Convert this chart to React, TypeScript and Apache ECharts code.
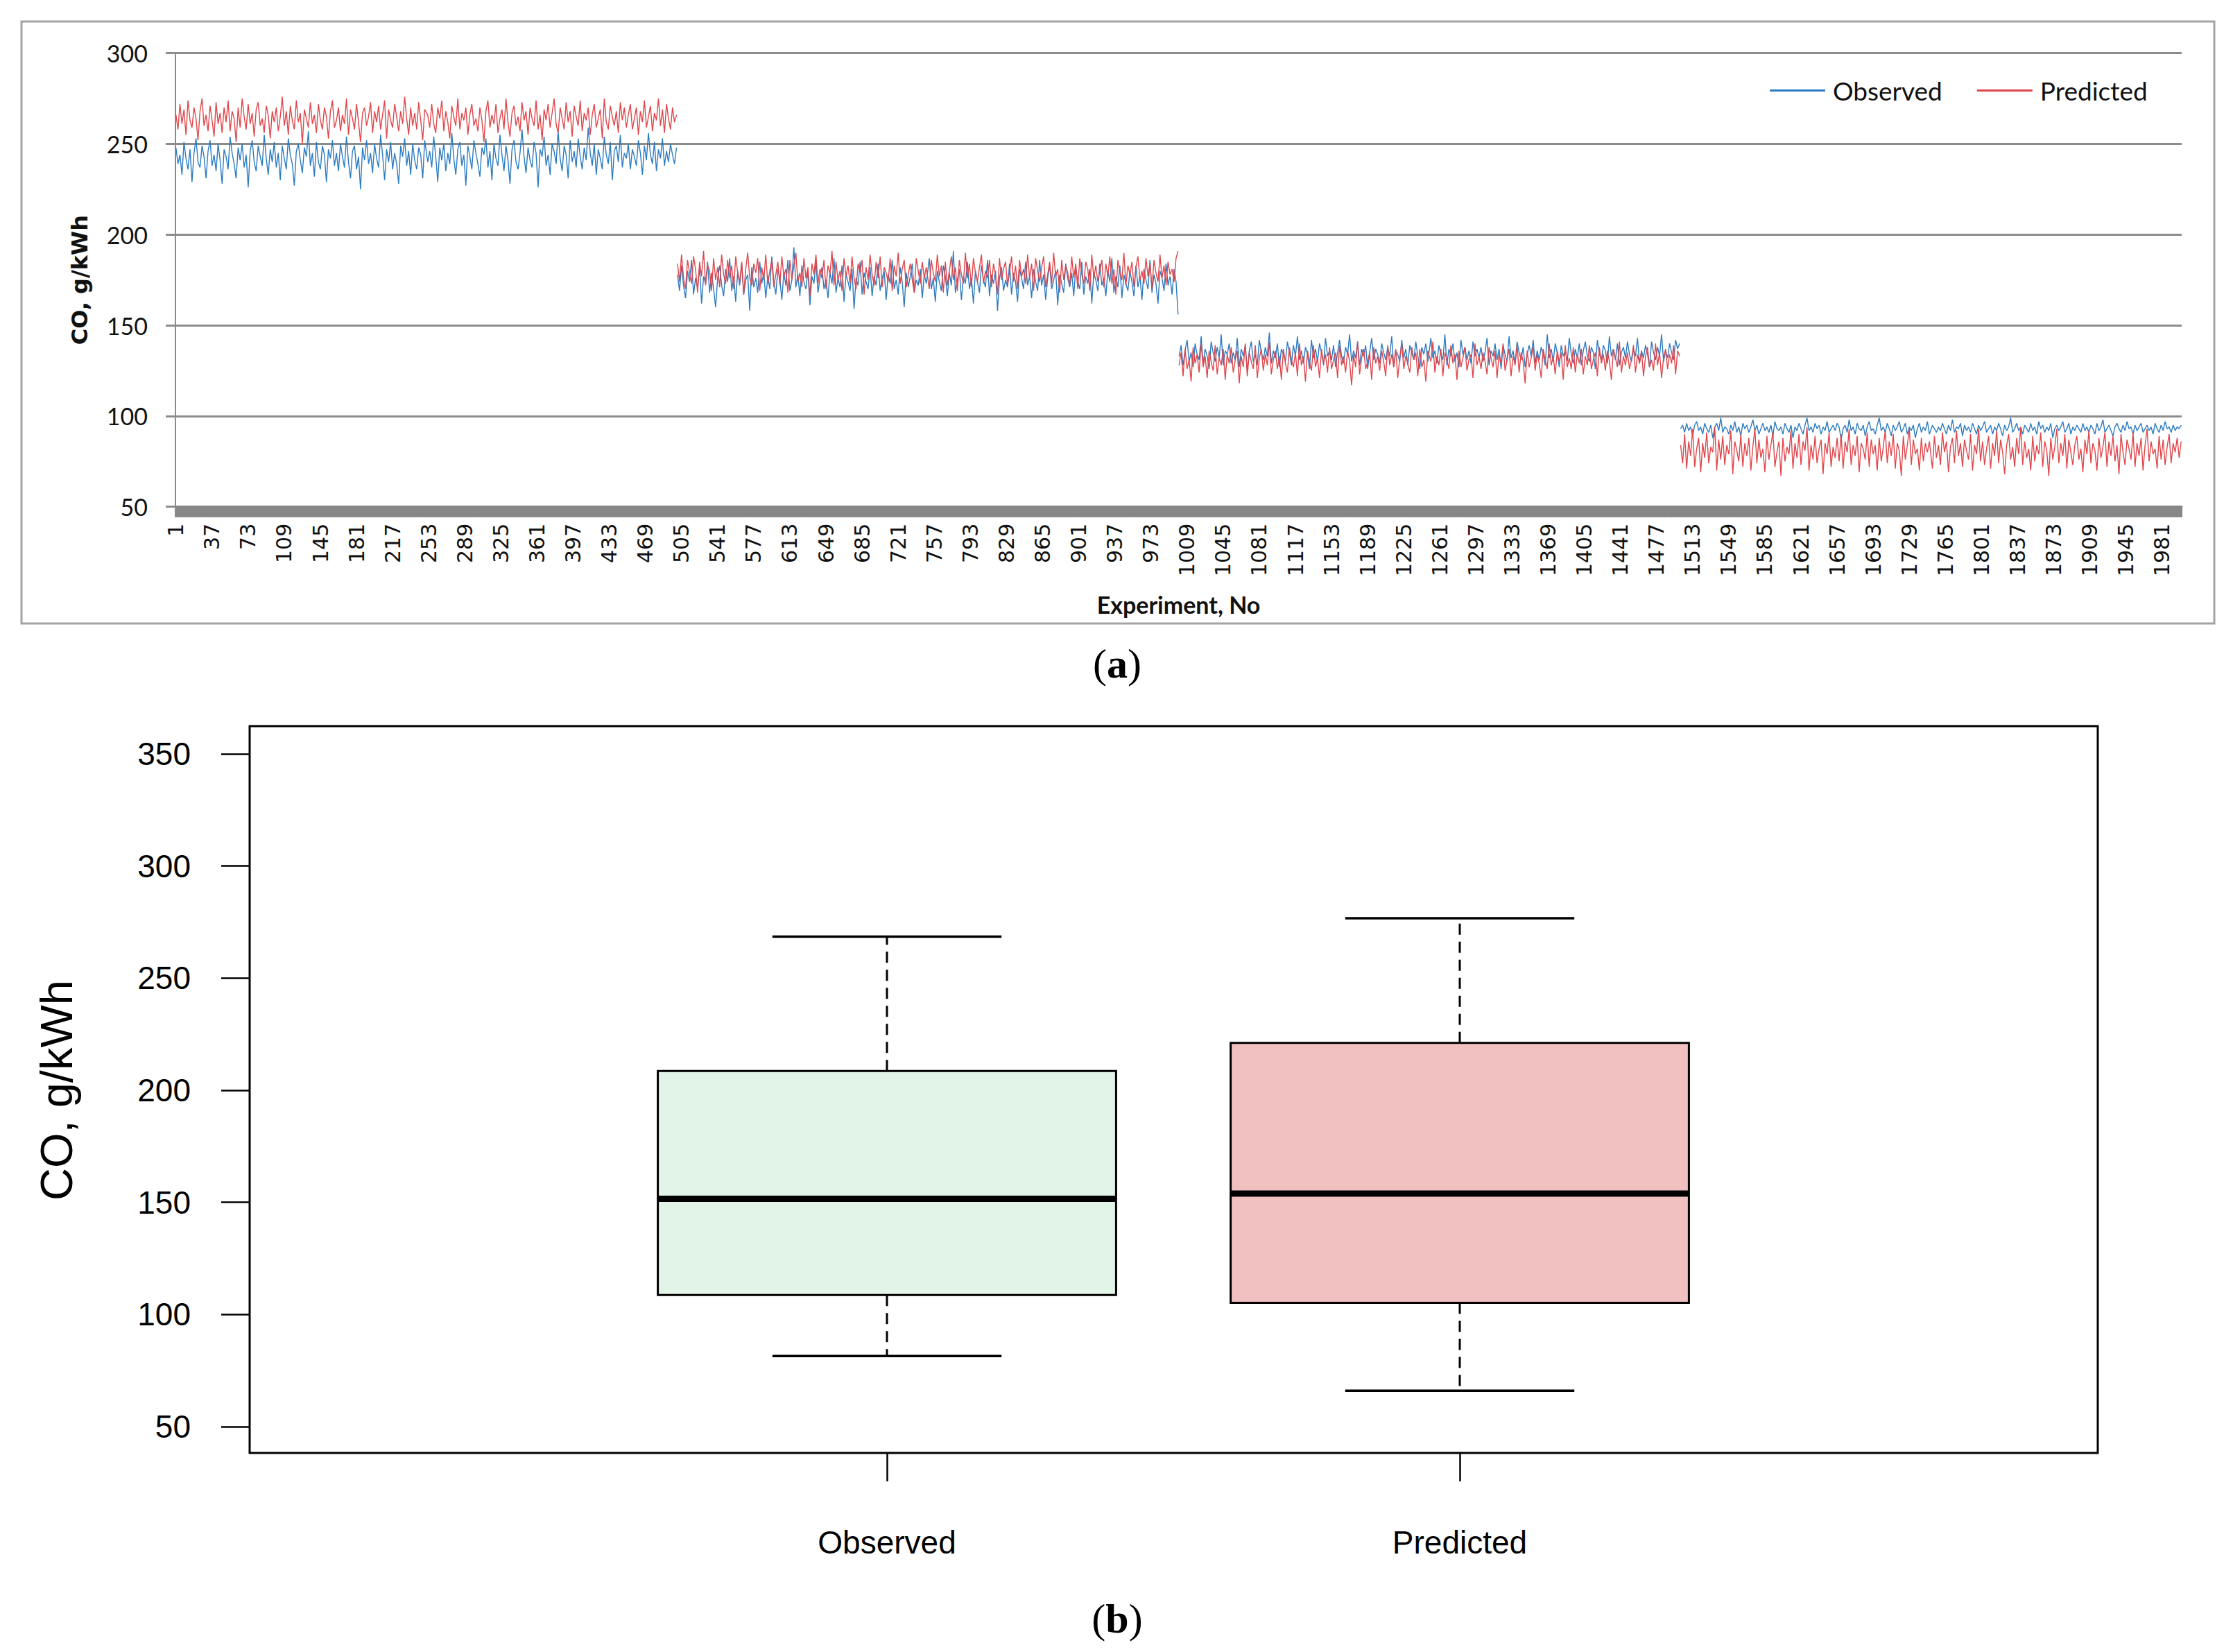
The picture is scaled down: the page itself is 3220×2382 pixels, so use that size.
import React, { useEffect, useRef } from "react";
import * as echarts from "echarts";

// ---------- Panel (a): time series ----------
const seriesNames = ["Observed", "Predicted"];
const lineColors = ["#2b7bc2", "#e0464b"];
const segmentLength = 500;
const totalPoints = 2000;
const xCategories = Array.from({ length: totalPoints }, (_, i) => String(i + 1));

const observedSeg1 = [
  248,239,244,233,251,242,236,247,229,245,253,240,237,249,243,231,246,252,238,244,235,250,241,228,247,
  243,236,254,245,239,231,248,241,250,237,244,226,246,252,240,235,249,243,238,255,242,233,247,240,251,
  237,245,230,249,242,236,253,244,239,227,246,250,241,234,248,243,257,238,245,232,251,240,236,249,244,
  229,247,242,252,238,245,235,250,243,237,254,240,231,246,249,236,243,225,248,241,252,239,245,234,250,
  242,237,255,244,230,247,240,251,236,245,239,228,249,243,253,238,246,233,250,241,236,248,244,231,252,
  240,246,237,254,243,229,248,241,250,235,245,239,256,242,233,247,251,238,244,227,249,243,236,252,245,
  239,232,248,244,253,237,246,230,250,242,238,255,244,235,249,241,228,247,252,240,236,245,258,243,234,
  248,241,237,251,245,226,247,243,254,238,244,233,250,246,239,257,242,235,249,244,231,252,240,246,237,
  253,243,236,248,241,259,245,238,250,233,247,242,236,254,244,239,251,230,246,249,240,255,237,245,242,
  250,236,247,243,238,252,245,233,249,241,256,244,239,251,235,247,242,253,238,246,240,250,244,239,248,
];
const predictedSeg1 = [
  266,258,272,261,269,255,274,263,259,270,264,252,268,275,260,266,257,271,263,254,273,261,267,256,270,
  262,274,257,268,264,251,270,259,275,265,258,272,261,267,254,269,273,260,264,256,271,266,253,268,262,
  270,257,265,276,260,268,255,271,263,258,274,262,267,250,269,264,259,273,261,266,256,272,263,258,270,
  265,253,268,274,259,263,270,257,266,261,275,255,269,264,258,272,262,251,267,270,260,265,273,256,268,
  262,271,258,266,274,253,269,263,259,272,265,257,268,261,276,264,255,270,260,267,258,273,263,252,269,
  266,259,272,261,256,270,264,274,257,268,262,253,271,265,260,275,258,267,263,270,255,266,272,260,264,
  257,270,263,251,268,274,259,266,261,272,256,264,269,258,275,262,254,267,271,260,265,257,273,263,268,
  255,270,264,260,274,258,266,252,269,263,272,259,267,275,261,256,270,264,258,273,262,268,254,271,265,
  260,274,257,267,263,270,255,266,272,259,264,269,253,275,262,258,271,265,260,268,256,273,263,270,259,
  266,272,258,264,270,255,268,262,274,259,265,271,257,267,263,275,260,269,256,272,264,258,270,262,266,
];
const observedSeg2 = [
  178,169,183,172,165,180,174,186,167,176,171,182,162,177,173,185,168,179,170,160,176,183,172,166,181,
  174,187,169,177,163,180,172,184,167,175,178,158,182,171,176,168,185,173,179,165,177,170,188,174,167,
  181,176,164,179,172,186,169,175,193,171,178,166,183,174,170,180,161,177,173,185,168,176,182,170,175,
  165,179,173,187,168,176,171,183,163,178,174,169,181,159,176,172,185,167,179,174,170,182,166,177,172,
  184,169,176,180,164,178,173,186,170,175,167,182,174,160,179,171,177,184,168,175,172,181,165,178,173,
  187,170,176,163,180,174,169,183,177,166,179,172,191,168,175,181,164,177,173,185,170,176,162,180,174,
  168,183,175,171,186,166,178,173,180,158,176,182,169,175,171,184,167,179,174,163,181,176,170,185,172,
  177,165,181,174,169,186,172,178,164,176,183,170,175,180,161,178,173,168,184,176,171,179,166,182,174,
  170,185,167,177,173,181,162,179,175,169,184,172,176,166,180,174,187,168,177,171,183,165,178,173,169,
  180,174,166,183,171,177,164,181,175,170,186,168,178,173,162,180,176,169,184,172,177,167,181,174,156,
];
const predictedSeg2 = [
  184,174,189,176,170,186,179,173,188,181,168,185,177,191,172,183,180,169,187,175,182,171,189,178,173,
  186,176,183,170,188,179,174,185,167,181,190,176,172,184,179,187,169,182,175,189,173,180,186,171,178,
  185,172,188,177,181,168,186,175,183,190,174,179,171,187,176,182,166,184,178,189,173,181,176,186,170,
  183,178,191,172,185,175,180,169,187,177,183,173,188,176,170,184,179,186,167,182,175,189,178,172,185,
  176,188,171,182,179,174,187,169,183,177,190,173,181,186,171,178,184,175,168,187,180,173,185,176,182,
  170,186,179,174,189,177,183,168,185,172,180,188,175,182,169,186,178,173,190,176,184,171,187,179,174,
  182,189,173,180,176,186,171,184,178,167,187,175,181,185,172,179,188,174,183,170,186,177,181,173,189,
  176,184,169,187,180,174,182,188,171,178,185,173,190,177,181,168,186,175,183,179,172,188,176,184,170,
  187,178,173,185,181,169,189,176,183,174,180,186,171,184,177,188,173,181,167,186,179,175,190,172,183,
  178,185,171,182,188,175,180,173,187,177,184,170,186,179,174,189,176,183,172,185,178,181,174,187,191,
];
const observedSeg3 = [
  133,139,128,136,142,130,135,127,140,134,131,144,129,137,133,126,141,135,130,138,132,145,128,136,134,
  140,129,135,131,143,127,137,133,139,125,136,141,130,134,128,142,135,131,138,133,146,129,136,132,140,
  127,137,134,130,141,135,128,139,133,144,131,136,129,138,134,126,142,132,137,130,140,135,128,143,133,
  136,131,139,127,135,142,133,129,138,134,145,130,136,132,141,128,137,133,139,126,135,143,131,137,134,
  129,140,135,131,138,133,144,127,136,134,130,142,132,137,128,139,135,131,141,133,126,138,134,140,130,
  143,132,136,129,139,134,131,145,128,137,133,140,130,135,127,142,134,138,131,136,129,141,133,137,132,
  138,130,135,143,128,136,133,140,131,137,126,139,134,130,144,132,136,129,141,135,131,138,127,134,139,
  133,142,129,136,131,138,134,128,145,132,137,130,140,135,127,139,133,136,130,143,134,129,137,132,140,
  128,136,141,133,130,138,135,126,142,134,131,139,136,129,144,133,137,131,140,128,135,138,132,141,134,
  130,137,133,143,129,136,132,139,134,127,141,135,131,138,133,145,130,136,132,140,135,131,142,137,140,
];
const predictedSeg3 = [
  128,135,122,137,126,131,119,138,129,134,124,140,127,133,121,136,130,125,139,123,132,128,137,120,134,
  129,138,124,131,136,118,133,127,140,122,135,130,126,139,121,132,137,125,134,128,141,123,131,136,126,
  133,120,137,129,124,138,131,127,135,122,140,128,133,119,136,130,125,139,127,132,121,137,129,134,124,
  138,126,131,135,121,139,128,133,124,136,130,117,134,127,141,123,132,137,126,130,135,120,138,129,133,
  125,136,130,122,139,128,134,127,137,121,132,140,126,133,129,124,138,131,135,122,137,127,131,119,136,
  130,141,124,133,128,137,122,135,131,126,139,129,134,120,136,127,132,138,125,131,134,121,140,128,133,
  126,135,130,123,138,132,127,136,121,134,129,140,125,131,137,122,133,128,139,124,135,130,118,136,127,
  132,138,125,134,129,121,137,131,126,140,128,133,123,136,130,135,120,139,127,132,126,138,124,134,129,
  137,123,133,128,139,126,131,135,122,138,129,134,125,136,130,120,137,132,127,141,124,133,128,135,126,
  131,139,124,134,129,136,122,133,138,127,131,125,140,128,135,121,132,137,126,134,129,139,123,136,133,
];
const observedSeg4 = [
  93,95,91,96,92,94,89,95,97,92,94,90,96,93,91,95,88,94,96,92,99,91,94,93,90,
  95,92,97,91,94,89,96,93,95,91,94,98,92,95,90,93,96,92,94,91,95,89,97,93,92,
  94,90,96,93,91,95,88,94,92,96,93,90,95,99,92,94,91,96,93,95,90,94,92,97,91,
  93,95,92,96,94,87,93,95,91,98,92,94,90,96,93,92,95,89,94,97,92,93,90,95,99,
  92,94,91,96,93,89,95,92,94,97,91,93,96,90,94,92,95,88,93,96,91,94,92,97,90,
  95,93,91,94,92,96,93,90,95,92,98,91,94,93,96,89,95,92,94,91,96,93,90,95,92,
  94,97,91,93,95,90,94,92,96,93,89,95,92,94,99,91,93,96,92,94,90,95,93,91,96,
  92,94,90,97,93,95,91,94,92,96,88,93,95,92,94,97,91,93,96,90,94,92,95,93,91,
  96,92,94,91,95,93,90,96,92,94,98,91,93,95,92,89,94,96,93,91,95,92,97,93,94,
  90,95,92,94,96,91,93,95,92,94,90,96,93,91,95,92,97,93,94,91,95,92,94,93,95,
];
const predictedSeg4 = [
  84,74,90,71,86,78,93,72,82,88,69,85,77,91,74,83,80,94,70,87,76,89,73,84,79,
  92,68,86,81,75,90,72,85,78,88,70,83,93,74,87,77,82,69,89,76,84,91,72,80,86,
  67,88,75,83,79,92,71,85,77,90,73,86,81,94,70,84,76,89,74,82,87,68,85,79,91,
  72,83,77,88,75,90,71,86,80,93,73,84,78,89,69,85,82,76,91,72,87,79,84,70,88,
  75,83,92,74,86,78,90,71,85,81,67,89,76,84,93,73,87,79,82,70,88,75,85,80,86,
  71,89,77,84,73,91,80,86,69,83,88,74,92,78,85,72,87,81,76,90,70,84,79,93,75,
  86,73,82,89,71,85,78,92,74,87,80,68,84,90,76,83,72,88,79,94,73,86,77,82,70,
  89,75,84,79,91,72,86,81,67,88,76,83,93,74,85,78,90,71,87,80,73,84,89,76,82,
  69,87,79,92,74,85,81,70,88,77,83,91,72,86,78,89,75,84,68,90,80,73,87,82,76,
  91,72,85,78,88,70,84,93,75,86,79,82,71,89,76,87,73,83,90,74,85,80,88,77,86,
];

const observedSegments = [observedSeg1, observedSeg2, observedSeg3, observedSeg4];
const predictedSegments = [predictedSeg1, predictedSeg2, predictedSeg3, predictedSeg4];

// ---------- Panel (b): box plot ----------
const boxCategories = ["Observed", "Predicted"];
const boxMin = [81.5, 66.0];
const boxQ1 = [108.7, 105.2];
const boxMedian = [151.6, 153.9];
const boxQ3 = [208.6, 221.1];
const boxMax = [268.5, 276.7];
const boxFills = ["#e2f3e7", "#f1c0c0"];

function toPairs(values: number[], seg: number) {
  const n = values.length;
  return values.map((v, i) => [seg * segmentLength + Math.round((i * (segmentLength - 1)) / (n - 1)), v]);
}

export default function App() {
  const ref = useRef<HTMLDivElement>(null);

  useEffect(() => {
    if (!ref.current) return;
    const chart = echarts.init(ref.current, undefined, { renderer: "svg" });

    const lineSeries: any[] = [];
    [observedSegments, predictedSegments].forEach((segs, s) => {
      segs.forEach((vals, k) => {
        lineSeries.push({
          type: "line",
          name: seriesNames[s],
          xAxisIndex: 0,
          yAxisIndex: 0,
          showSymbol: false,
          symbol: "none",
          lineStyle: { width: 1.4, color: lineColors[s] },
          itemStyle: { color: lineColors[s] },
          data: toPairs(vals, k),
          z: 3 + s,
        });
      });
    });

    const boxData = boxCategories.map((_, i) => [i, boxMin[i], boxQ1[i], boxMedian[i], boxQ3[i], boxMax[i]]);

    const boxSeries = {
      type: "custom",
      xAxisIndex: 1,
      yAxisIndex: 1,
      encode: { x: 0, y: [1, 2, 3, 4, 5] },
      data: boxData,
      renderItem: (params: any, api: any) => {
        const idx = api.value(0);
        const cx = api.coord([idx, api.value(3)])[0];
        const yLo = api.coord([idx, api.value(1)])[1];
        const yQ1 = api.coord([idx, api.value(2)])[1];
        const yMed = api.coord([idx, api.value(3)])[1];
        const yQ3 = api.coord([idx, api.value(4)])[1];
        const yHi = api.coord([idx, api.value(5)])[1];
        const bw = api.size([1, 0])[0];
        const half = bw * 0.4;
        const cap = bw * 0.2;
        const dash = { stroke: "#000", lineWidth: 3, lineDash: [16, 10], fill: null };
        const solid = { stroke: "#000", lineWidth: 3.5, fill: null };
        return {
          type: "group",
          children: [
            { type: "line", shape: { x1: cx, y1: yQ3, x2: cx, y2: yHi }, style: dash },
            { type: "line", shape: { x1: cx, y1: yQ1, x2: cx, y2: yLo }, style: dash },
            { type: "line", shape: { x1: cx - cap, y1: yHi, x2: cx + cap, y2: yHi }, style: solid },
            { type: "line", shape: { x1: cx - cap, y1: yLo, x2: cx + cap, y2: yLo }, style: solid },
            {
              type: "rect",
              shape: { x: cx - half, y: yQ3, width: half * 2, height: yQ1 - yQ3 },
              style: { fill: boxFills[idx], stroke: "#000", lineWidth: 3 },
            },
            { type: "line", shape: { x1: cx - half, y1: yMed, x2: cx + half, y2: yMed }, style: { stroke: "#000", lineWidth: 9 } },
          ],
        };
      },
    };

    chart.setOption({
      animation: false,
      backgroundColor: "#ffffff",
      legend: {
        data: seriesNames,
        left: 2547,
        top: 107,
        itemWidth: 80,
        itemHeight: 3,
        icon: "rect",
        itemGap: 50,
        textStyle: { fontFamily: "Lato", fontSize: 37, color: "#111", padding: [0, 0, 0, 6] },
      },
      grid: [
        { left: 253, right: 74, top: 76.7, bottom: 1651.3, outerBoundsMode: "none" },
        { left: 866, right: 702, top: 1087, bottom: 325, outerBoundsMode: "none" },
      ],
      xAxis: [
        {
          type: "category",
          gridIndex: 0,
          data: xCategories,
          boundaryGap: true,
          name: "Experiment, No",
          nameLocation: "middle",
          nameGap: 124,
          nameTextStyle: { fontFamily: "Lato", fontWeight: "bold", fontSize: 34, color: "#111" },
          axisLine: { show: true, lineStyle: { color: "#878787", width: 3 } },
          axisTick: { show: true, interval: 0, length: 15, lineStyle: { color: "#878787", width: 2 } },
          axisLabel: {
            interval: 35,
            rotate: 90,
            margin: 24,
            fontFamily: "DejaVu Sans",
            fontSize: 30,
            color: "#111",
          },
          splitLine: { show: false },
        },
        {
          type: "category",
          gridIndex: 1,
          data: boxCategories,
          boundaryGap: true,
          offset: 38,
          axisLine: { show: false },
          axisTick: { show: true, alignWithLabel: true, length: 41, lineStyle: { color: "#000", width: 2.5 } },
          axisLabel: { interval: 0, margin: 106, fontFamily: "Liberation Sans", fontSize: 46, color: "#000" },
          splitLine: { show: false },
        },
      ],
      yAxis: [
        {
          type: "value",
          gridIndex: 0,
          min: 50,
          max: 300,
          interval: 50,
          name: "CO, g/kWh",
          nameLocation: "middle",
          nameGap: 122,
          nameTextStyle: { fontFamily: "DejaVu Sans", fontWeight: "bold", fontSize: 32, color: "#111" },
          axisLine: { show: true, lineStyle: { color: "#8c8c8c", width: 2 } },
          axisTick: { show: true, length: 14, lineStyle: { color: "#8c8c8c", width: 3 } },
          axisLabel: { margin: 40, fontFamily: "Lato", fontSize: 34, color: "#111" },
          splitLine: { show: true, lineStyle: { color: "#8c8c8c", width: 3 } },
        },
        {
          type: "value",
          gridIndex: 1,
          min: 50,
          max: 350,
          interval: 50,
          offset: 506,
          name: "CO, g/kWh",
          nameLocation: "middle",
          nameGap: 246,
          nameTextStyle: { fontFamily: "Liberation Sans", fontSize: 65, color: "#000" },
          axisLine: { show: false },
          axisTick: { show: true, length: 41, lineStyle: { color: "#000", width: 2.5 } },
          axisLabel: { margin: 85, fontFamily: "Liberation Sans", fontSize: 46, color: "#000" },
          splitLine: { show: false },
        },
      ],
      graphic: [
        {
          type: "rect",
          shape: { x: 31, y: 31, width: 3162, height: 868 },
          style: { fill: null, stroke: "#a3a3a3", lineWidth: 3 },
          silent: true,
          z: 0,
        },
        {
          type: "rect",
          shape: { x: 360, y: 1047, width: 2665, height: 1048 },
          style: { fill: null, stroke: "#000", lineWidth: 3 },
          silent: true,
          z: 10,
        },
        {
          type: "text",
          x: 1611,
          y: 957,
          style: {
            text: "{p|(}{b|a}{p|)}",
            align: "center",
            verticalAlign: "middle",
            rich: {
              p: { fontFamily: "Liberation Serif", fontSize: 60, fill: "#000" },
              b: { fontFamily: "Liberation Serif", fontSize: 60, fontWeight: "bold", fill: "#000" },
            },
          },
        },
        {
          type: "text",
          x: 1611,
          y: 2334,
          style: {
            text: "{p|(}{b|b}{p|)}",
            align: "center",
            verticalAlign: "middle",
            rich: {
              p: { fontFamily: "Liberation Serif", fontSize: 60, fill: "#000" },
              b: { fontFamily: "Liberation Serif", fontSize: 60, fontWeight: "bold", fill: "#000" },
            },
          },
        },
      ],
      series: [...lineSeries, boxSeries],
    });

    return () => chart.dispose();
  }, []);

  return (
    <div
      ref={ref}
      style={{ position: "absolute", left: 0, top: 0, width: 3220, height: 2382, background: "#fff" }}
    />
  );
}
